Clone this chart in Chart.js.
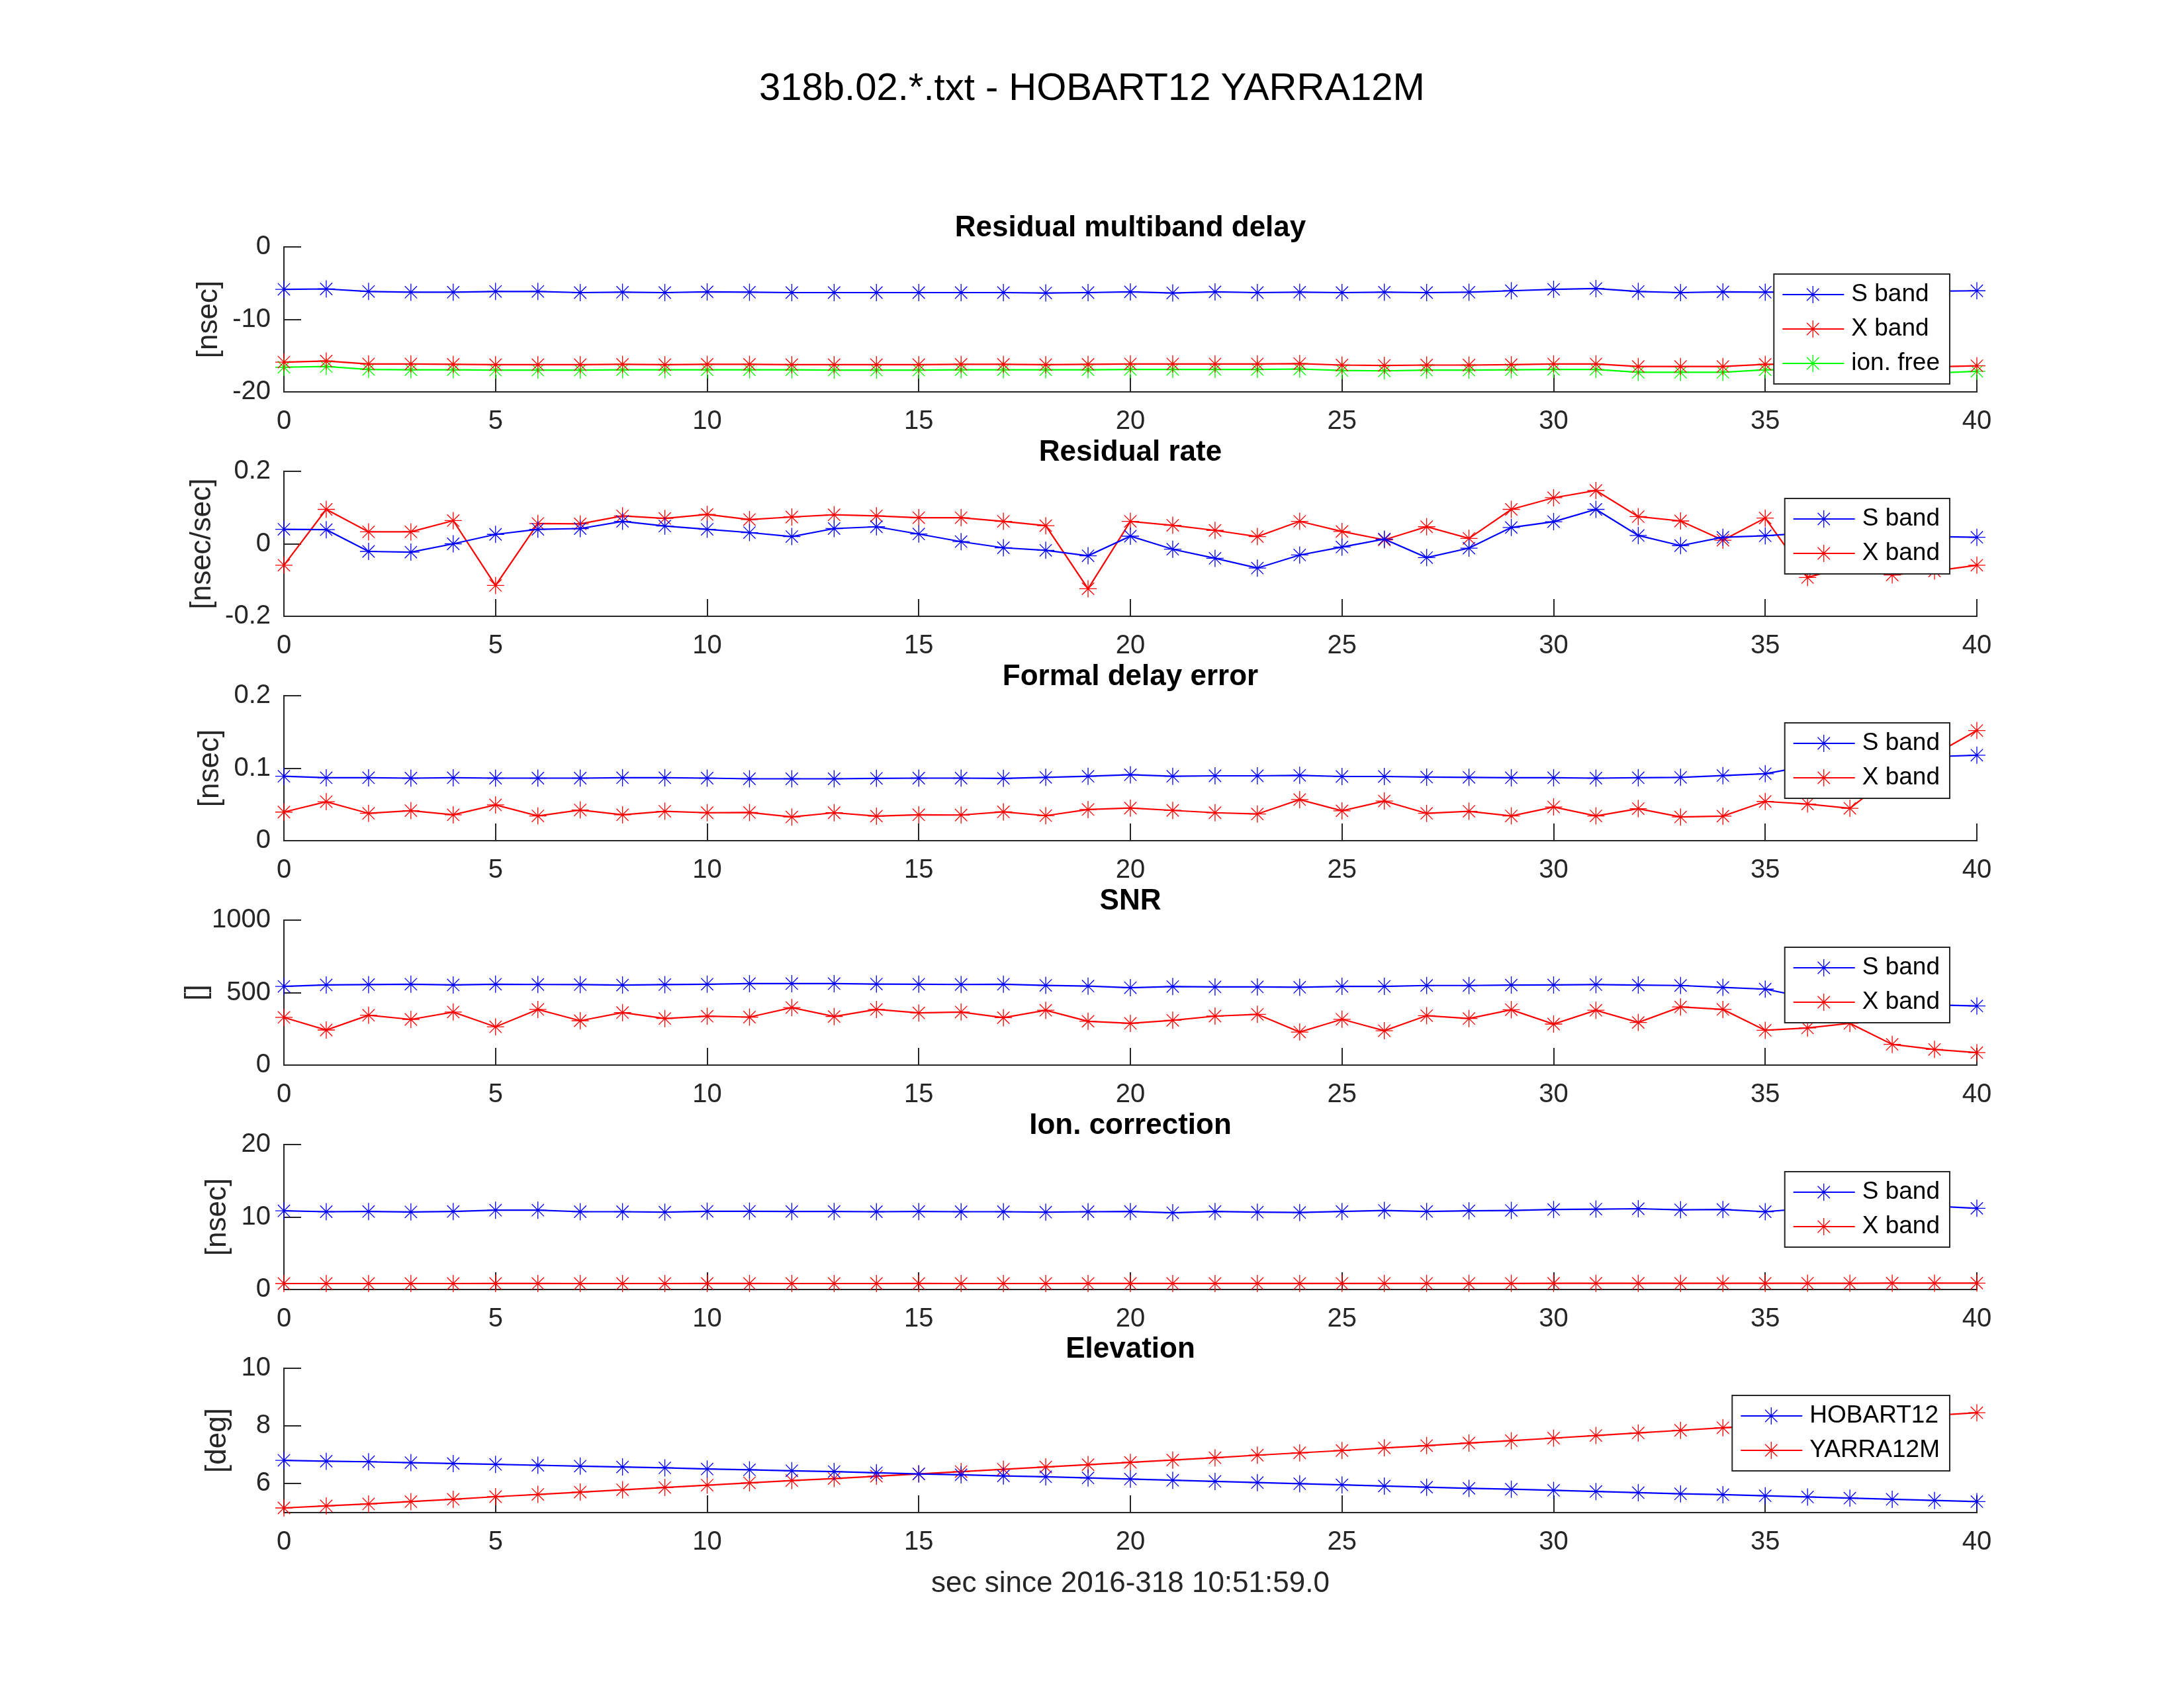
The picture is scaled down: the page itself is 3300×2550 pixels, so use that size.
<!DOCTYPE html>
<html>
<head>
<meta charset="utf-8">
<script src="https://cdn.jsdelivr.net/npm/chart.js@4.4.1/dist/chart.umd.min.js"></script>
<style>
html, body { margin: 0; padding: 0; background: #fff; }
#pagina { position: relative; width: 3300px; height: 2550px; overflow: hidden; }
#tituloPrincipal {
    position: absolute; left: 0; top: 102px; width: 3300px;
    text-align: center; color: #000;
    font: 58px/58px "Liberation Sans", Arial, sans-serif;
}
canvas { position: absolute; left: 0; }
</style>
</head>
<body>
<div id="pagina">
    <div id="tituloPrincipal">318b.02.*.txt - HOBART12 YARRA12M</div>
</div>
<script>
// Eje x: segundos
const segundos = [0, 1, 2, 3, 4, 5, 6, 7, 8, 9, 10, 11, 12, 13, 14, 15, 16, 17, 18, 19, 20,
    21, 22, 23, 24, 25, 26, 27, 28, 29, 30, 31, 32, 33, 34, 35, 36, 37, 38, 39, 40];
const ticksX = [0, 5, 10, 15, 20, 25, 30, 35, 40];

// Residual multiband delay [nsec]
const retardoS = [-5.85, -5.8, -6.15, -6.25, -6.25, -6.15, -6.15, -6.3, -6.25, -6.3, -6.2, -6.25, -6.3, -6.3, -6.3, -6.3, -6.3, -6.3, -6.35, -6.3, -6.2,
    -6.35, -6.2, -6.3, -6.25, -6.3, -6.25, -6.3, -6.25, -6.05, -5.85, -5.75, -6.15, -6.3, -6.2, -6.25, -6.2, -6.2, -6.1, -6.1, -6.05];
const retardoX = [-15.9, -15.75, -16.15, -16.15, -16.2, -16.25, -16.25, -16.25, -16.2, -16.25, -16.2, -16.2, -16.25, -16.25, -16.25, -16.25, -16.2, -16.2, -16.25, -16.2, -16.15,
    -16.15, -16.15, -16.15, -16.1, -16.3, -16.35, -16.3, -16.3, -16.25, -16.15, -16.15, -16.5, -16.5, -16.5, -16.2, -16.2, -16.3, -16.35, -16.55, -16.4];
const retardoLibre = [-16.6, -16.5, -16.9, -16.95, -16.95, -17.0, -17.0, -17.0, -16.95, -16.95, -16.95, -16.95, -16.95, -17.0, -17.0, -17.0, -16.95, -16.95, -16.95, -16.95, -16.9,
    -16.9, -16.9, -16.9, -16.85, -17.05, -17.1, -17.0, -17.0, -16.95, -16.9, -16.9, -17.3, -17.3, -17.3, -16.95, -16.95, -17.05, -17.1, -17.4, -17.15];
const ticksRetardo = [-20, -10, 0];

// Residual rate [nsec/sec]
const tasaS = [0.04, 0.039, -0.021, -0.023, 0.0, 0.026, 0.04, 0.042, 0.062, 0.049, 0.04, 0.031, 0.02, 0.042, 0.047, 0.027, 0.006, -0.011, -0.018, -0.033, 0.021,
    -0.015, -0.04, -0.067, -0.031, -0.009, 0.013, -0.038, -0.012, 0.045, 0.061, 0.095, 0.023, -0.005, 0.018, 0.022, 0.03, 0.02, 0.02, 0.02, 0.018];
const tasaX = [-0.059, 0.095, 0.033, 0.033, 0.064, -0.115, 0.056, 0.055, 0.077, 0.07, 0.081, 0.067, 0.074, 0.08, 0.077, 0.072, 0.072, 0.062, 0.05, -0.124, 0.062,
    0.051, 0.037, 0.02, 0.062, 0.034, 0.011, 0.047, 0.015, 0.095, 0.127, 0.147, 0.075, 0.063, 0.01, 0.071, -0.093, -0.06, -0.086, -0.075, -0.059];
const ticksTasa = [-0.2, 0, 0.2];

// Formal delay error [nsec]
const errorS = [0.0889, 0.0868, 0.0868, 0.0863, 0.0868, 0.0863, 0.0863, 0.0863, 0.0868, 0.0868, 0.0863, 0.0854, 0.0854, 0.0854, 0.086, 0.0863, 0.0863, 0.086, 0.0874, 0.0889, 0.0909,
    0.0889, 0.0895, 0.0895, 0.0901, 0.0886, 0.0886, 0.0877, 0.0874, 0.0868, 0.0868, 0.0863, 0.0868, 0.0874, 0.0898, 0.0924, 0.103, 0.108, 0.112, 0.116, 0.118];
const errorX = [0.0395, 0.0538, 0.0377, 0.0415, 0.0357, 0.0494, 0.0342, 0.0424, 0.0357, 0.0406, 0.0386, 0.0389, 0.0327, 0.0386, 0.0339, 0.0357, 0.0354, 0.0398, 0.0345, 0.043, 0.045,
    0.0418, 0.0386, 0.0368, 0.0567, 0.0412, 0.0547, 0.0377, 0.0406, 0.0342, 0.0465, 0.0342, 0.0442, 0.0327, 0.0339, 0.0541, 0.0506, 0.0447, 0.09, 0.119, 0.152];
const ticksError = [0, 0.1, 0.2];

// SNR []
const snrS = [543, 553, 555, 558, 553, 558, 556, 555, 552, 555, 558, 562, 562, 562, 559, 558, 556, 558, 550, 545, 534,
    542, 539, 539, 537, 543, 543, 549, 549, 552, 553, 555, 552, 549, 536, 524, 465, 440, 425, 415, 408];
const snrX = [329, 242, 344, 315, 366, 264, 384, 306, 362, 321, 337, 331, 397, 335, 384, 360, 366, 327, 378, 302, 288,
    309, 338, 350, 228, 316, 237, 341, 321, 382, 283, 378, 294, 401, 384, 240, 256, 288, 143, 108, 86];
const ticksSnr = [0, 500, 1000];

// Ion. correction [nsec]
const ionS = [10.85, 10.73, 10.76, 10.7, 10.76, 10.94, 10.94, 10.73, 10.73, 10.67, 10.79, 10.79, 10.76, 10.76, 10.73, 10.76, 10.73, 10.73, 10.67, 10.73, 10.76,
    10.59, 10.76, 10.67, 10.62, 10.76, 10.91, 10.76, 10.85, 10.91, 11.03, 11.09, 11.14, 11.0, 11.03, 10.73, 11.2, 11.3, 11.35, 11.5, 11.2];
const ionX = [0.82, 0.82, 0.82, 0.82, 0.82, 0.83, 0.83, 0.82, 0.82, 0.82, 0.83, 0.83, 0.82, 0.82, 0.82, 0.83, 0.82, 0.82, 0.82, 0.83, 0.83,
    0.83, 0.83, 0.83, 0.83, 0.84, 0.84, 0.84, 0.84, 0.84, 0.85, 0.85, 0.85, 0.85, 0.85, 0.85, 0.86, 0.86, 0.87, 0.87, 0.88];
const ticksIon = [0, 10, 20];

// Elevation [deg]
const elevHobart = [6.81, 6.78, 6.76, 6.73, 6.70, 6.67, 6.64, 6.61, 6.58, 6.55, 6.51, 6.48, 6.45, 6.42, 6.38, 6.34, 6.31, 6.27, 6.24, 6.20, 6.16,
    6.12, 6.08, 6.04, 6.00, 5.96, 5.92, 5.88, 5.84, 5.81, 5.77, 5.73, 5.69, 5.65, 5.62, 5.58, 5.54, 5.50, 5.46, 5.42, 5.38];
const elevYarra = [5.16, 5.23, 5.30, 5.38, 5.46, 5.55, 5.63, 5.71, 5.79, 5.87, 5.95, 6.03, 6.11, 6.18, 6.26, 6.34, 6.42, 6.50, 6.58, 6.66, 6.74,
    6.82, 6.90, 6.99, 7.07, 7.15, 7.24, 7.32, 7.41, 7.49, 7.58, 7.67, 7.76, 7.85, 7.94, 8.03, 8.12, 8.20, 8.29, 8.37, 8.46];
const ticksElev = [6, 8, 10];

const AZUL = '#0000ff';
const ROJO = '#ff0000';
const VERDE = '#00ff00';
const GRIS = '#262626';
const FUENTE = '"Liberation Sans", Arial, sans-serif';

Chart.defaults.font.family = FUENTE;

// Paneles: titulo, etiqueta y, rango, ticks y series
const paneles = [
    { titulo: 'Residual multiband delay', etiquetaY: '[nsec]', min: -20, max: 0, ticks: ticksRetardo, xEtiqueta: 316,
      series: [['S band', retardoS, AZUL], ['X band', retardoX, ROJO], ['ion. free', retardoLibre, VERDE]] },
    { titulo: 'Residual rate', etiquetaY: '[nsec/sec]', min: -0.2, max: 0.2, ticks: ticksTasa, xEtiqueta: 306,
      series: [['S band', tasaS, AZUL], ['X band', tasaX, ROJO]] },
    { titulo: 'Formal delay error', etiquetaY: '[nsec]', min: 0, max: 0.2, ticks: ticksError, xEtiqueta: 318,
      series: [['S band', errorS, AZUL], ['X band', errorX, ROJO]] },
    { titulo: 'SNR', etiquetaY: '[]', min: 0, max: 1000, ticks: ticksSnr, xEtiqueta: 298,
      series: [['S band', snrS, AZUL], ['X band', snrX, ROJO]] },
    { titulo: 'Ion. correction', etiquetaY: '[nsec]', min: 0, max: 20, ticks: ticksIon, xEtiqueta: 329,
      series: [['S band', ionS, AZUL], ['X band', ionX, ROJO]] },
    { titulo: 'Elevation', etiquetaY: '[deg]', min: 5, max: 10, ticks: ticksElev, xEtiqueta: 329,
      series: [['HOBART12', elevHobart, AZUL], ['YARRA12M', elevYarra, ROJO]] }
];

const topesPanel = [363, 702, 1041, 1380, 1719, 2057];
const ANCHO_EJE_Y = 429;
const MARGEN_DER = 313;
const ALTO_TITULO = 60;

// Leyenda estilo MATLAB: linea + marcador + texto, arriba a la derecha
const leyendaMatlab = {
    id: 'leyendaMatlab',
    afterDatasetsDraw(chart) {
        const { ctx, chartArea } = chart;
        const items = chart.data.datasets;
        ctx.save();
        ctx.font = '37px ' + FUENTE;
        const anchoTexto = Math.max(...items.map(d => ctx.measureText(d.label).width));
        const w = 117 + anchoTexto + 15;
        const h = 52 * items.length + 10;
        const x0 = chartArea.right - 41 - w;
        const y0 = chartArea.top + 41;
        ctx.fillStyle = '#fff';
        ctx.fillRect(x0, y0, w, h);
        ctx.strokeStyle = GRIS;
        ctx.lineWidth = 2;
        ctx.strokeRect(x0, y0, w, h);
        items.forEach((d, i) => {
            const y = y0 + 31 + 52 * i;
            ctx.strokeStyle = d.borderColor;
            ctx.lineWidth = d.borderWidth;
            ctx.beginPath();
            ctx.moveTo(x0 + 13, y);
            ctx.lineTo(x0 + 106, y);
            ctx.stroke();
            ctx.lineWidth = d.pointBorderWidth;
            Chart.helpers.drawPoint(ctx, { pointStyle: 'star', radius: d.pointRadius, rotation: 0, borderWidth: d.pointBorderWidth }, x0 + 59, y);
            ctx.fillStyle = '#000';
            ctx.textBaseline = 'middle';
            ctx.textAlign = 'left';
            ctx.fillText(d.label, x0 + 117, y);
        });
        ctx.restore();
    }
};

function crearPanel(p, i) {
    const ultimo = i === paneles.length - 1;
    const altoPlot = ultimo ? 228 : 229;
    const altoEjeX = ultimo ? 134 : 70;
    const canvas = document.createElement('canvas');
    canvas.width = 3300;
    canvas.height = ALTO_TITULO + altoPlot + altoEjeX;
    canvas.style.top = (topesPanel[i] - ALTO_TITULO) + 'px';
    document.getElementById('pagina').appendChild(canvas);

    const datasets = p.series.map(([nombre, valores, color]) => ({
        label: nombre,
        data: segundos.map((s, k) => ({ x: s, y: valores[k] })),
        borderColor: color,
        backgroundColor: color,
        borderWidth: 2.2,
        pointStyle: 'star',
        pointRadius: 13,
        pointBorderWidth: 1.3,
        pointBorderColor: color,
        pointBackgroundColor: color,
        tension: 0,
        fill: false,
        clip: false
    }));

    return new Chart(canvas, {
        type: 'line',
        data: { datasets: datasets },
        options: {
            responsive: false,
            animation: false,
            devicePixelRatio: 1,
            layout: { padding: { left: 0, right: MARGEN_DER, top: 0, bottom: 0 } },
            plugins: {
                legend: { display: false },
                tooltip: { enabled: false },
                title: {
                    display: true,
                    text: p.titulo,
                    fullSize: false,
                    color: '#000',
                    font: { size: 44, weight: 'bold' },
                    padding: { top: 5.6, bottom: 1.6 }
                }
            },
            scales: {
                x: {
                    type: 'linear',
                    position: 'bottom',
                    min: 0,
                    max: 40,
                    afterBuildTicks: sc => { sc.ticks = ticksX.map(v => ({ value: v })); },
                    afterFit: sc => { sc.height = altoEjeX; },
                    grid: { drawOnChartArea: false, drawTicks: true, tickLength: -26, color: GRIS, lineWidth: 2 },
                    border: { display: true, color: GRIS, width: 2 },
                    ticks: { padding: 47, color: GRIS, font: { size: 40 }, maxRotation: 0, autoSkip: false, callback: v => String(v) },
                    title: {
                        display: ultimo,
                        text: 'sec since 2016-318 10:51:59.0',
                        color: GRIS,
                        font: { size: 44 },
                        padding: { top: 0, bottom: 0 }
                    }
                },
                y: {
                    type: 'linear',
                    position: 'left',
                    min: p.min,
                    max: p.max,
                    afterBuildTicks: sc => { sc.ticks = p.ticks.map(v => ({ value: v })); },
                    afterFit: sc => { sc.width = ANCHO_EJE_Y; },
                    grid: { drawOnChartArea: false, drawTicks: true, tickLength: -26, color: GRIS, lineWidth: 2 },
                    border: { display: true, color: GRIS, width: 2 },
                    ticks: { padding: 46, color: GRIS, font: { size: 40 }, autoSkip: false, callback: v => String(v) },
                    title: {
                        display: true,
                        text: p.etiquetaY,
                        color: GRIS,
                        font: { size: 44 },
                        padding: { top: p.xEtiqueta - 26.4, bottom: 0 }
                    }
                }
            }
        },
        plugins: [leyendaMatlab]
    });
}

paneles.forEach(crearPanel);
</script>
</body>
</html>
